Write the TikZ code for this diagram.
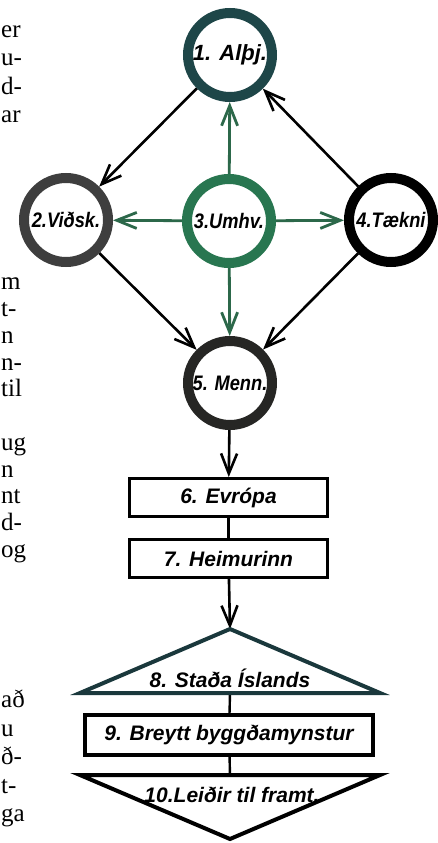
\documentclass[tikz,border=0pt]{standalone}
\usepackage{fontspec}
\setmainfont{Liberation Serif}
\newfontfamily\lblfont{Liberation Sans}
\newfontfamily\narrowfont{Liberation Sans}[FakeStretch=0.87]
\usepackage{tikz}
\usetikzlibrary{arrows.meta}
\pgfdeclarelayer{background}
\pgfsetlayers{background,main}
\definecolor{albteal}{RGB}{30,70,72}
\definecolor{vidgray}{RGB}{62,62,62}
\definecolor{umhgreen}{RGB}{40,118,80}
\definecolor{arrgreen}{RGB}{44,104,74}
\definecolor{menblack}{RGB}{38,38,36}
\definecolor{stateal}{RGB}{26,56,60}
\tikzset{
  ring/.style={circle,draw,line width=10pt,minimum size=84pt,inner sep=0pt,outer sep=5pt,fill=white,
    font=\narrowfont\bfseries\itshape\fontsize{21}{21}\selectfont},
  panel/.style={draw,line width=3pt,minimum width=198pt,minimum height=38pt,inner sep=0pt,outer sep=1.5pt,fill=white,
    font=\lblfont\bfseries\itshape\fontsize{21}{21}\selectfont},
  tritext/.style={anchor=base,inner sep=0pt,font=\lblfont\bfseries\itshape\fontsize{21}{21}\selectfont},
  grnarrow/.style={draw=arrgreen,line width=2.8pt,-{Straight Barb[length=20pt,width=16pt]}},
  blkarrow/.style={draw=black,line width=2.6pt,-{Straight Barb[length=20pt,width=16pt]}},
  pagetext/.style={anchor=base west,inner sep=0pt,font=\fontsize{25}{25}\selectfont}
}

\begin{document}
\begin{tikzpicture}[x=1pt,y=-1pt]
\useasboundingbox (0,0) rectangle (438,843);
% page text at the left edge
\foreach \y/\t [count=\i] in {38/er,66/u-,94/d-,122/ar,289/m,316/t-,343/n,370/n-,396/til,450/ug,477/n,503/nt,530/d-,557/og,707/að,736/u,764/ð-,793/t-,821/ga}
  \node[pagetext] (p\i) at (1,\y) {\t};
% circles
\node[ring,draw=albteal,font=\lblfont\bfseries\itshape\fontsize{22}{22}\selectfont] (alb) at (230,55) {1. Alþj.};
\node[ring,draw=vidgray] (vid) at (66,220) {2.Viðsk.};
\node[ring,draw=umhgreen] (umh) at (229,221) {3.Umhv.};
\node[ring,draw=black] (tae) at (391,220) {4.Tækni};
\node[ring,draw=menblack] (men) at (230,383) {5. Menn.};
% boxes and triangles
\node[panel] (evr) at (228.5,497.5) {6. Evrópa};
\node[panel] (hei) at (228.5,558.5) {7. Heimurinn};
\coordinate (statop) at (230,629);
\coordinate (stabase) at (230,693);
\draw[draw=stateal,line width=4pt,fill=white] (statop) -- (380,693) -- (80,693) -- cycle;
\node[tritext] (sta) at (230,687) {8. Staða Íslands};
\node[panel,line width=4pt,minimum width=288pt,minimum height=40pt,outer sep=2pt] (bre) at (229,735) {9. Breytt byggðamynstur};
\coordinate (leitop) at (230,775);
\draw[line width=4pt,fill=white] (80,775) -- (380,775) -- (230,839) -- cycle;
\node[tritext] (lei) at (232,802) {10.Leiðir til framt.};
\begin{pgfonlayer}{background}
\draw[blkarrow] (alb) -- (vid); %1->2
\draw[grnarrow] (umh) -- (alb); %3->1
\draw[grnarrow] (umh) -- (vid); %3->2
\draw[grnarrow] (umh) -- (tae); %3->4
\draw[grnarrow] (umh) -- (men); %3->5
\draw[blkarrow] (tae) -- (alb); %4->1
\draw[blkarrow] (vid) -- (men); %2->5
\draw[blkarrow] (tae) -- (men); %4->5
\draw[blkarrow] (men) -- (evr); %5->6
\draw[line width=2.4pt] (evr) -- (hei); %6-7
\draw[blkarrow] (hei) -- (statop); %7->8
\draw[line width=2.4pt] (stabase) -- (bre); %8-9
\draw[line width=2.4pt] (bre) -- (leitop); %9-10
\end{pgfonlayer}
\end{tikzpicture}
\end{document}
